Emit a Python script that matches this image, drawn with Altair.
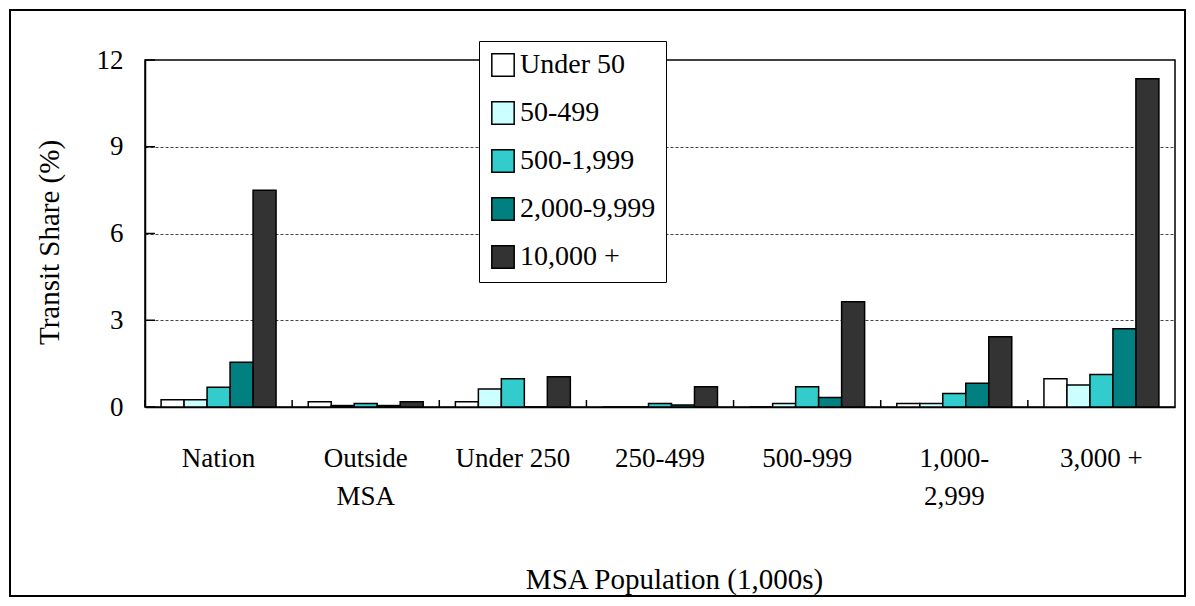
import altair as alt
import pandas as pd

categories = ["Nation", "Outside MSA", "Under 250", "250-499", "500-999", "1,000-2,999", "3,000 +"]
series = ["Under 50", "50-499", "500-1,999", "2,000-9,999", "10,000 +"]
colors = ["#FFFFFF", "#CCFFFF", "#33CCCC", "#008080", "#333333"]

v_under50 = [0.25, 0.18, 0.18, 0.0, 0.0, 0.12, 0.98]
v_50_499 = [0.25, 0.05, 0.62, 0.0, 0.12, 0.12, 0.76]
v_500_1999 = [0.68, 0.12, 0.98, 0.12, 0.70, 0.47, 1.12]
v_2000_9999 = [1.55, 0.05, 0.0, 0.07, 0.33, 0.82, 2.71]
v_10000 = [7.50, 0.18, 1.05, 0.70, 3.64, 2.43, 11.35]

y_ticks = [0, 3, 6, 9, 12]

rows = []
for s, vals in zip(series, [v_under50, v_50_499, v_500_1999, v_2000_9999, v_10000]):
    for c, v in zip(categories, vals):
        rows.append({"cat": c, "series": s, "value": v})
df = pd.DataFrame(rows)

W, H = 1030, 347
FONT = "Liberation Serif"

x_scale = alt.Scale(domain=categories, paddingInner=0, paddingOuter=0)

bars = alt.Chart(df).mark_bar(stroke="black", strokeWidth=1.5).encode(
    x=alt.X("cat:N", sort=categories, scale=x_scale,
            axis=alt.Axis(title="MSA Population (1,000s)", labelAngle=0, ticks=False,
                          labelPadding=38, labelLineHeight=38, titlePadding=56,
                          titleX=529,
                          labelExpr="datum.value == 'Outside MSA' ? ['Outside', 'MSA'] : datum.value == '1,000-2,999' ? ['1,000-', '2,999'] : datum.label")),
    xOffset=alt.XOffset("series:N", sort=series,
                        scale=alt.Scale(domain=series, paddingInner=0, paddingOuter=0.7)),
    y=alt.Y("value:Q", scale=alt.Scale(domain=[0, 12], nice=False),
            axis=alt.Axis(title="Transit Share (%)", values=y_ticks, ticks=False,
                          labelPadding=22, titlePadding=32, titleY=182,
                          grid=True, gridDash=[3, 2], gridColor="#444444", gridWidth=1)),
    fill=alt.Fill("series:N", sort=series,
                  scale=alt.Scale(domain=series, range=colors),
                  legend=alt.Legend(title=None, orient="none", legendX=334, legendY=-19,
                                    symbolType="square", symbolSize=500,
                                    symbolStrokeColor="black", symbolStrokeWidth=1.5,
                                    labelFontSize=28, labelFont=FONT, labelColor="black",
                                    labelOffset=3, rowPadding=18, padding=10,
                                    strokeColor="black", fillColor="white")),
)

ytick_df = pd.DataFrame({"v": y_ticks})
ytick_rules = alt.Chart(ytick_df).mark_rule(color="black", strokeWidth=1.5).encode(
    y=alt.Y("v:Q"), x=alt.value(0), x2=alt.value(10)
)

xtick_df = pd.DataFrame({"cat": categories})
xtick_rules = alt.Chart(xtick_df).mark_rule(color="black", strokeWidth=1.5).encode(
    x=alt.X("cat:N", sort=categories, bandPosition=0),
    y=alt.value(H), y2=alt.value(H - 7)
)

frame = alt.Chart(pd.DataFrame({"a": [0]})).mark_rect(fill=None, stroke="black", strokeWidth=2).encode(
    x=alt.value(-135), x2=alt.value(W + 10), y=alt.value(-50), y2=alt.value(H + 189)
)

chart = alt.layer(frame, bars, ytick_rules, xtick_rules).properties(
    width=W, height=H,
    background="white",
    autosize=alt.AutoSizeParams(type="none"),
    padding={"left": 137, "top": 52, "right": 12, "bottom": 191},
).configure_view(
    stroke="black", strokeWidth=1.5
).configure_axis(
    labelFont=FONT, titleFont=FONT, labelFontSize=27, titleFontSize=29,
    labelColor="black", titleColor="black", titleFontWeight="normal",
    domainColor="black", domainWidth=1.5,
)

chart.save("out.html", embed_options={"renderer": "svg", "actions": False})
